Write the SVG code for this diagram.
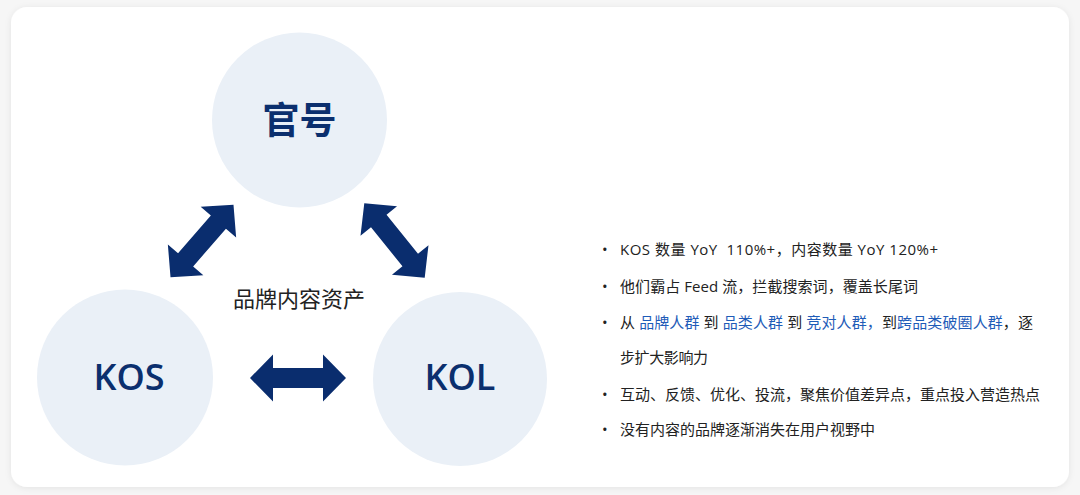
<svg xmlns="http://www.w3.org/2000/svg" width="1080" height="495" viewBox="0 0 1080 495">
<style>
.node circle{fill:#eaf0f7}
.lbl{font-family:"Open Sans","Noto Sans CJK SC",sans-serif;font-weight:600;fill:#0b2f6e;text-anchor:middle}
.cn{font-family:"Noto Sans CJK SC",sans-serif;font-weight:700;fill:#0b2f6e;text-anchor:middle}
.arrow{fill:#0a2d6e}
.body{font-family:"Open Sans","Noto Sans CJK SC",sans-serif;font-size:15px;fill:#222}
.blue{fill:#1f5cb8}
</style>
<defs>
<filter id="sh" x="-5%" y="-5%" width="110%" height="110%">
<feDropShadow dx="0" dy="1" stdDeviation="3" flood-color="#000" flood-opacity="0.08"/>
</filter>
<path id="dbl" d="M-48,0 L-25,-23.5 L-25,-10 L25,-10 L25,-23.5 L48,0 L25,23.5 L25,10 L-25,10 L-25,23.5 Z"/>
</defs>
<rect width="1080" height="495" fill="#f6f6f6"/>
<rect x="11" y="7" width="1058" height="480" rx="16" fill="#fff" filter="url(#sh)"/>
<g id="node-guanhao" class="node">
<circle cx="299.5" cy="120" r="87.5"/>
<text class="cn" x="299.5" y="134" font-size="37">官号</text>
</g>
<g id="node-kos" class="node">
<circle cx="125" cy="377.5" r="88"/>
<text class="lbl" x="129" y="390" font-size="36">KOS</text>
</g>
<g id="node-kol" class="node">
<circle cx="460" cy="379" r="87"/>
<text class="lbl" x="460" y="390" font-size="36">KOL</text>
</g>
<g id="connectors">
<use href="#dbl" class="arrow" transform="translate(202,241) rotate(-49)"/>
<use href="#dbl" class="arrow" transform="translate(394.5,240.5) rotate(51)"/>
<use href="#dbl" class="arrow" transform="translate(298,378)"/>
</g>
<g id="center-label">
<text x="299" y="307" font-family="Noto Sans CJK SC,sans-serif" font-size="22" fill="#222" text-anchor="middle">品牌内容资产</text>
</g>
<g id="notes" class="body">
<text x="602" y="255">•</text>
<text x="620" y="255" textLength="318" lengthAdjust="spacing">KOS 数量 YoY&#160; 110%+，内容数量 YoY 120%+</text>
<text x="602" y="292">•</text>
<text x="620" y="292" textLength="298" lengthAdjust="spacing">他们霸占 Feed 流，拦截搜索词，覆盖长尾词</text>
<text x="602" y="328">•</text>
<text x="620" y="328" textLength="413" lengthAdjust="spacing">从 <tspan class="blue">品牌人群</tspan> 到 <tspan class="blue">品类人群</tspan> 到 <tspan class="blue">竞对人群，</tspan>到<tspan class="blue">跨品类破圈人群</tspan>，逐</text>
<text x="620" y="363" textLength="88" lengthAdjust="spacing">步扩大影响力</text>
<text x="602" y="400">•</text>
<text x="620" y="400" textLength="420" lengthAdjust="spacing">互动、反馈、优化、投流，聚焦价值差异点，重点投入营造热点</text>
<text x="602" y="435">•</text>
<text x="620" y="435" textLength="255" lengthAdjust="spacing">没有内容的品牌逐渐消失在用户视野中</text>
</g>
</svg>
